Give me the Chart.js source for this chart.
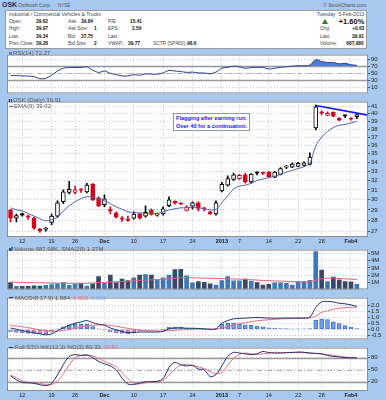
<!DOCTYPE html>
<html lang="en">
<head>
<meta charset="UTF-8">
<title>OSK Daily</title>
<script src="https://cdn.jsdelivr.net/npm/chart.js"></script>
<style>
  body { margin: 0; background: #a7c8ef; }
  #page { position: relative; width: 386px; height: 400px; overflow: hidden; font-family: Arial, "Liberation Sans", sans-serif; }
  #page canvas { position: absolute; left: 0; }
  .t { position: absolute; white-space: pre; color: #444; z-index: 3; }
  .v { font-weight: bold; color: #111; }
  .lg { color: #555; }
  #info { position: absolute; left: 5px; top: 10px; width: 362px; height: 39px; box-sizing: border-box; background: #fff; border: 1px solid #9a9a9a; }
  #note { position: absolute; left: 173px; top: 113px; width: 77px; height: 18px; box-sizing: border-box; background: #fff; border: 1px solid #8c94c8; z-index: 3;
          color: #1b1bf0; font-weight: bold; font-size: 5.6px; line-height: 7.5px; padding: 1px 0 0 2px; white-space: nowrap; }
  .tri { position: absolute; width: 0; height: 0; border-left: 3px solid transparent; border-right: 3px solid transparent; border-bottom: 5px solid #2f7d2f; z-index: 3; }
  .ico { position: absolute; z-index: 3; }
</style>
</head>
<body>
<div id="page">
  <div id="info"></div>
  <div id="note">Flagging after earning run.<br>Over 40 for a continuation.</div>
</div>
<script>
// trading days shown (Nov 8 2012 .. Feb 5 2013)
const dates = ['Nov 8','Nov 9','Nov 12','Nov 13','Nov 14','Nov 15','Nov 16','Nov 19','Nov 20','Nov 21',
  'Nov 23','Nov 26','Nov 27','Nov 28','Nov 29','Nov 30','Dec 3','Dec 4','Dec 5','Dec 6',
  'Dec 7','Dec 10','Dec 11','Dec 12','Dec 13','Dec 14','Dec 17','Dec 18','Dec 19','Dec 20',
  'Dec 21','Dec 24','Dec 26','Dec 27','Dec 28','Dec 31','Jan 2','Jan 3','Jan 4','Jan 7',
  'Jan 8','Jan 9','Jan 10','Jan 11','Jan 14','Jan 15','Jan 16','Jan 17','Jan 18','Jan 22',
  'Jan 23','Jan 24','Jan 25','Jan 28','Jan 29','Jan 30','Jan 31','Feb 1','Feb 4','Feb 5'];

const opens  = [29.0,28.2,28.65,28.35,28.2,27.12,27.15,27.8,28.4,29.8, 30.75,30.75,31.05,30.8,31.6,30.2,29.5,29.0,28.7,28.15,
  28.05,28.2,28.6,28.4,29.0,28.5,28.6,29.4,29.85,29.62, 28.95,29.35,29.7,29.15,28.8,28.6,30.9,31.5,32.1,32.2,
  32.6,31.85,32.82,32.8,32.9,32.35,32.65,33.45,33.45,33.55, 33.65,33.8,38.15,40.15,39.8,40.2,39.4,39.72,39.32,39.62];
const highs  = [29.05,28.6,28.7,28.5,28.3,27.25,27.35,28.6,29.9,31.0, 31.9,31.4,31.15,31.7,31.7,30.3,30.5,29.3,28.8,28.35,
  28.4,28.8,28.7,29.4,29.1,28.7,29.3,30.3,29.9,29.7, 29.4,29.8,29.8,29.25,28.85,29.9,31.8,32.5,32.8,32.65,
  32.8,32.75,32.95,32.9,33.0,33.0,33.4,33.65,33.95,34.0, 34.05,35.1,41.2,40.4,40.25,40.25,39.5,39.85,39.45,39.97];
const lows   = [27.85,27.85,28.4,28.1,27.15,26.9,27.0,27.6,28.3,29.6, 30.6,30.6,30.75,30.7,29.9,29.3,29.3,28.6,28.2,27.9,
  27.9,28.1,28.1,28.3,28.5,28.4,28.5,29.3,29.55,29.5, 28.9,29.1,28.9,28.9,28.55,28.5,30.8,31.4,32.0,32.1,
  31.7,31.7,32.6,32.65,32.35,32.3,32.6,33.3,33.4,33.5, 33.6,33.7,37.9,39.85,39.75,39.6,39.05,39.5,39.15,39.34];
const closes = [28.2,28.45,28.5,28.3,27.3,27.05,27.2,28.4,29.7,30.8, 31.05,31.0,30.97,31.5,30.0,29.4,30.1,28.9,28.3,28.1,
  28.0,28.6,28.2,28.75,28.55,28.58,29.1,30.0,29.65,29.58, 29.3,29.7,29.15,29.08,28.62,29.7,31.6,32.2,32.6,32.55,
  31.85,32.7,32.8,32.75,32.4,32.9,33.3,33.5,33.8,33.9, 33.95,34.6,40.95,40.1,40.05,39.7,39.15,39.7,39.28,39.91];

const ema9 = [29.2,29.0,28.9,28.65,28.4,28.15,27.95,28.05,28.3,28.9, 29.4,29.8,30.1,30.3,30.25,30.05,29.9,29.6,29.3,29.05,
  28.8,28.75,28.7,28.65,28.65,28.65,28.8,29.0,29.1,29.2, 29.2,29.25,29.2,29.1,29.0,29.05,29.7,30.4,31.1,31.4,
  31.5,31.7,32.0,32.15,32.3,32.45,32.65,32.9,33.1,33.3, 33.5,33.9,35.9,37.0,37.7,38.2,38.5,38.6,38.8,39.02];
const trendX = [52, 60.9];
const trendY = [41.12, 39.82];

const rsi14 = [43,43,42,41.5,40,34,35,44,56,64, 66,66,66,68,58.5,52,56,49.5,45.6,42,
  42,45.6,44,48,47,47,50.5,57.8,56,54.5, 52,53,50.5,50.5,48,53,64,66.6,70,68,
  64,66,66.6,66.6,62,64,66.6,68,70,71, 71,73,88.5,83,80.5,80.5,76.5,78,74,72.27];

const volume = [0.96,0.42,0.42,0.42,0.5,0.45,0.58,0.66,0.77,0.96, 0.58,0.69,0.84,0.45,0.77,1.8,0.85,2.0,0.96,1.45,
  1.22,1.6,2.0,2.05,2.0,1.35,1.6,2.0,2.77,2.8, 1.9,0.9,1.1,0.97,0.77,0.6,1.22,1.8,1.2,1.2,
  1.45,1.15,0.96,0.6,0.7,0.9,0.92,0.85,0.6,1.1, 1.1,1.25,5.26,2.7,1.1,1.73,1.35,1.1,1.05,0.69];
const volSma20 = [1.02,1.0,0.98,0.96,0.94,0.92,0.9,0.88,0.87,0.86, 0.85,0.85,0.85,0.86,0.88,0.95,0.97,1.03,1.05,1.1,
  1.13,1.18,1.25,1.3,1.35,1.38,1.42,1.48,1.55,1.62, 1.65,1.62,1.6,1.57,1.55,1.52,1.5,1.48,1.45,1.42,
  1.4,1.35,1.3,1.25,1.22,1.18,1.15,1.12,1.08,1.05, 1.05,1.08,1.3,1.5,1.55,1.55,1.52,1.48,1.42,1.37];

const macdLine = [0.11,0.0,-0.11,-0.2,-0.29,-0.37,-0.45,-0.38,-0.11,0.11, 0.34,0.5,0.61,0.72,0.55,0.41,0.34,0.11,-0.04,-0.18,
  -0.27,-0.27,-0.22,-0.22,-0.22,-0.22,-0.16,0.04,0.11,0.11, 0.09,0.09,0.07,0.04,0.0,0.04,0.5,0.72,0.86,0.9,
  0.92,0.95,0.97,0.95,0.92,0.92,0.92,0.93,0.93,0.93, 0.93,1.0,1.8,2.25,2.3,2.25,2.15,2.1,2.0,1.884];
const macdSignal = [0.32,0.27,0.2,0.13,0.05,-0.03,-0.1,-0.15,-0.15,-0.1, -0.02,0.08,0.18,0.28,0.33,0.36,0.36,0.32,0.25,0.16,
  0.08,0.0,-0.06,-0.1,-0.13,-0.15,-0.15,-0.12,-0.08,-0.05, -0.02,0.0,0.01,0.02,0.02,0.02,0.1,0.22,0.35,0.46,
  0.55,0.63,0.7,0.75,0.79,0.82,0.85,0.87,0.88,0.9, 0.91,0.93,1.1,1.4,1.52,1.65,1.73,1.78,1.8,1.822];
const macdHist = [-0.21,-0.25,-0.3,-0.33,-0.34,-0.33,-0.35,-0.23,0.04,0.21, 0.36,0.42,0.43,0.44,0.22,0.05,-0.02,-0.21,-0.29,-0.34,
  -0.35,-0.27,-0.16,-0.12,-0.09,-0.07,-0.01,0.16,0.19,0.16, 0.11,0.09,0.06,0.02,-0.02,0.02,0.4,0.5,0.51,0.44,
  0.37,0.32,0.27,0.2,0.13,0.1,0.07,0.06,0.05,0.05, 0.04,0.07,0.75,0.85,0.8,0.62,0.47,0.3,0.17,0.062];

const stochK = [34.5,25,18,17,16,12.5,10,16,37,63, 83.6,88,86,87,80.7,71,65,59.5,50,29,
  14,13,16.5,20,20,21,27.7,55.7,68.6,62.5, 59.5,61,52,50,33,38,59.5,83.6,93.6,92,
  90,88,90,96,93,92,92,93,93.6,94.5, 94,92,91,90,86,83.6,82,80.7,80,80.33];
const stochD = [37,30,22,18.5,17,16,12.5,12.7,22,40, 62,80,86,87,85,79,71,65,57.5,43,
  27.7,16,14.5,17,20,20.5,23,37,51,63, 63,61,57,53,45,40,43,61,79,89,
  92,90,89,90,92,94,93,93,93,93, 93,92,91,90,88,86,84,82,80,79.83];

// axis ticks
const dateTickIdx  = [2,7,11,16,21,26,31,36,39,44,49,53,58];
const dateTickText = ['12','19','26','Dec','10','17','24','2013','7','14','22','28','Feb4'];
const dateTickBold = ['Dec','2013','Feb4'];
const priceTicks = [27,28,29,30,31,32,33,34,35,36,37,38,39,40,41];
const rsiTicks = [10,30,50,70,90];
const volTicks = [1,2,3,4,5];
const macdTicks = [-0.5,0,0.5,1,1.5,2];
const stochTicks = [20,50,80];

const FONT = 'Arial, "Liberation Sans", sans-serif';
Chart.defaults.font.family = FONT;
Chart.defaults.animation = false;
Chart.defaults.plugins.legend.display = false;
Chart.defaults.plugins.tooltip.enabled = false;
Chart.defaults.elements.point.radius = 0;
Chart.defaults.elements.line.borderWidth = 1;

const page = document.getElementById('page');
const RED = '#d8001a', BLK = '#000000';

const framePlugin = {
  id: 'frame',
  beforeDraw(chart) {
    const { ctx, chartArea: a } = chart;
    ctx.save();
    ctx.fillStyle = '#ffffff';
    ctx.fillRect(a.left, a.top, a.width, a.height);
    ctx.restore();
  },
  afterDraw(chart) {
    const { ctx, chartArea: a } = chart;
    ctx.save();
    ctx.strokeStyle = '#8c8c8c';
    ctx.lineWidth = 1;
    ctx.strokeRect(a.left + 0.5, a.top + 0.5, a.width - 1, a.height - 1);
    ctx.restore();
  }
};

const refPlugin = {
  id: 'refLines',
  beforeDatasetsDraw(chart, args, opts) {
    const { ctx, chartArea: a, scales: { y } } = chart;
    const draw = (v, dash, color, w) => {
      const py = Math.round(y.getPixelForValue(v)) + 0.5;
      ctx.beginPath();
      ctx.setLineDash(dash);
      ctx.strokeStyle = color;
      ctx.lineWidth = w;
      ctx.moveTo(a.left, py);
      ctx.lineTo(a.right, py);
      ctx.stroke();
    };
    ctx.save();
    (opts.solid || []).forEach(v => draw(v, [], '#9a9a9a', 1.4));
    (opts.dashed || []).forEach(v => draw(v, [5, 2, 1, 2], '#b4b4b4', 1));
    ctx.restore();
  }
};

function makeCanvas(top, height) {
  const c = document.createElement('canvas');
  c.width = 386;
  c.height = height;
  c.style.top = top + 'px';
  page.appendChild(c);
  return c;
}

function xAxis(showDates, stripHeight) {
  return {
    type: 'linear', min: -0.6, max: 60.9, offset: false,
    afterBuildTicks: s => { s.ticks = dateTickIdx.map(v => ({ value: v })); },
    afterFit: s => { s.height = showDates ? stripHeight : 0; },
    ticks: {
      display: showDates, autoSkip: false, maxRotation: 0, padding: 1, color: '#1a1a1a',
      callback: (v, i) => dateTickText[i],
      font: c => ({ size: 5.5, family: FONT, weight: dateTickBold.includes(dateTickText[c.index]) ? 'bold' : 'normal' })
    },
    grid: { color: '#c4c4c4', drawTicks: false, offset: false },
    border: { display: false, dash: [1, 2] }
  };
}

function yAxis(extra, ticksArr, fmt) {
  return Object.assign({
    position: 'right',
    afterFit: s => { s.width = 18; },
    afterBuildTicks: s => { s.ticks = ticksArr.map(v => ({ value: v })); },
    ticks: { font: { size: 6, family: FONT }, color: '#222', padding: 1, autoSkip: false, callback: fmt },
    grid: { color: '#c8c8c8', tickLength: 2, tickColor: '#555', tickBorderDash: [] },
    border: { display: false, dash: [1, 2] }
  }, extra);
}

function panel(top, height, showDates, strip, yScale, datasets, refs) {
  return new Chart(makeCanvas(top, height), {
    type: 'bar',
    data: { datasets },
    options: {
      responsive: false,
      layout: { padding: { left: 7, right: 0, top: 0, bottom: 0 } },
      scales: { x: xAxis(showDates, strip), y: yScale },
      plugins: { refLines: refs || {} }
    },
    plugins: [framePlugin, refPlugin]
  });
}

const pts = arr => arr.map((v, i) => ({ x: i, y: v }));

// ---- RSI panel
panel(50, 48, false, 0,
  yAxis({ type: 'linear', min: -8, max: 103 }, rsiTicks, v => String(v)),
  [{
    type: 'line', data: pts(rsi14), borderColor: '#2b3f8c', borderWidth: 1, tension: 0.3,
    fill: { target: { value: 70 }, above: '#4f7fd6', below: 'rgba(0,0,0,0)' }
  }],
  { solid: [70, 30], dashed: [50] });

// ---- price panel
const candleColor = closes.map((c, i) => c < (i ? closes[i - 1] : opens[i]) ? RED : BLK);
const hollow = closes.map((c, i) => c >= opens[i]);
panel(97, 148, true, 8,
  yAxis({ type: 'logarithmic', min: 26.48, max: 41.67 }, priceTicks, v => String(v)),
  [
    { type: 'line', order: 0, data: trendX.map((x, i) => ({ x, y: trendY[i] })), borderColor: '#1515f5', borderWidth: 1.6 },
    { type: 'line', order: 1, data: pts(ema9), borderColor: '#5461b0', borderWidth: 1, tension: 0.3 },
    {
      type: 'bar', order: 2, grouped: false, barThickness: 4, minBarLength: 1.2, borderWidth: 1, borderSkipped: false,
      data: opens.map((o, i) => ({ x: i, y: [o, closes[i]] })),
      backgroundColor: hollow.map((h, i) => h ? '#ffffff' : candleColor[i]),
      borderColor: candleColor
    },
    {
      type: 'bar', order: 3, grouped: false, barThickness: 1, borderWidth: 0,
      data: lows.map((l, i) => ({ x: i, y: [l, highs[i]] })),
      backgroundColor: candleColor
    }
  ]);

// ---- volume panel
const volColor = closes.map((c, i) => c >= opens[i] ? '#3d78b8' : '#3a4868');
panel(245, 49, false, 0,
  yAxis({ type: 'linear', min: 0, max: 5.55 }, volTicks, v => v + 'M'),
  [
    { type: 'line', order: 0, data: pts(volSma20), borderColor: '#f25a7a', borderWidth: 1, tension: 0.3 },
    { type: 'bar', order: 1, grouped: false, barThickness: 4, data: pts(volume), backgroundColor: volColor, borderWidth: 0 }
  ]);

// ---- MACD panel
panel(293, 51, false, 0,
  yAxis({ type: 'linear', min: -0.83, max: 2.61 }, macdTicks, v => v.toFixed(1)),
  [
    { type: 'line', order: 0, data: pts(macdLine), borderColor: '#1f2d72', borderWidth: 1, tension: 0.3 },
    { type: 'line', order: 1, data: pts(macdSignal), borderColor: '#f26b80', borderWidth: 1, tension: 0.3 },
    {
      type: 'bar', order: 2, grouped: false, barThickness: 4, data: pts(macdHist), borderWidth: 1, borderSkipped: false,
      backgroundColor: macdHist.map(v => v < 0 ? '#ee8a9c' : '#6fa2ee'),
      borderColor: macdHist.map(v => v < 0 ? '#6a7fd0' : '#3e6fcf')
    }
  ]);

// ---- Full stochastics panel
panel(343, 57, true, 9,
  yAxis({ type: 'linear', min: -3.4, max: 105.7 }, stochTicks, v => String(v)),
  [
    { type: 'line', order: 0, data: pts(stochK), borderColor: '#1f2d72', borderWidth: 1, tension: 0.3 },
    { type: 'line', order: 1, data: pts(stochD), borderColor: '#f26b80', borderWidth: 1, tension: 0.3 }
  ],
  { solid: [80, 20], dashed: [50] });

// ---- text overlays (drawn at 2x and scaled down so tiny sizes are not clamped)
function put(txt, x, y, opt = {}) {
  const fs = opt.fs || 4.8;
  const d = document.createElement('div');
  d.className = 't' + (opt.cls ? ' ' + opt.cls : '');
  d.textContent = txt;
  d.style.fontSize = (fs * 2) + 'px';
  d.style.lineHeight = '14px';
  d.style.top = (y - 7) + 'px';
  d.style.transform = 'scale(0.5)';
  if (opt.right) { d.style.right = (386 - x) + 'px'; d.style.transformOrigin = '100% 50%'; }
  else { d.style.left = x + 'px'; d.style.transformOrigin = '0 50%'; }
  if (opt.style) Object.assign(d.style, opt.style);
  page.appendChild(d);
  return d;
}
function box(x, y, w, h, color) {
  const d = document.createElement('div');
  d.className = 'ico';
  Object.assign(d.style, { left: x + 'px', top: y + 'px', width: w + 'px', height: h + 'px', background: color });
  page.appendChild(d);
}

put('OSK', 2, 4, { fs: 7, style: { fontWeight: 'bold', color: '#1c2a55' } });
put('Oshkosh Corp.', 18, 4.5, { fs: 5, style: { color: '#555' } });
put('NYSE', 58, 4.5, { fs: 4.5, style: { color: '#555' } });
put('\u00a9 StockCharts.com', 366, 4.5, { right: true, fs: 5, style: { color: '#555' } });

put('Industrial / Commercial Vehicles & Trucks', 9, 14, { fs: 5 });
put('Tuesday  5-Feb-2013', 364, 14, { right: true, fs: 5 });
// label, value, left x of value
[['Open:', '39.62', 'Ask:', '39.84', 81, 'P/E:', '15.41', 130],
 ['High:', '39.97', 'Ask Size:', '1', 94, 'EPS:', '2.59', 132],
 ['Low:', '39.34', 'Bid:', '37.75', 81, 'Last:', '', 0],
 ['Prev Close:', '39.28', 'Bid Size:', '2', 94, 'VWAP:', '39.77', 128]].forEach((r, k) => {
  const y = [21, 28.4, 35.8, 43.2][k];
  put(r[0], 9, y);
  put(r[1], 35.5, y, { cls: 'v' });
  put(r[2], 68, y);
  put(r[3], r[4], y, { cls: 'v' });
  put(r[5], 108, y);
  if (r[6]) put(r[6], r[7], y, { cls: 'v' });
});
put('SCTR (SP400):', 153, 43.2);
put('98.6', 187, 43.2, { cls: 'v' });

const tri = document.createElement('div');
tri.className = 'tri';
Object.assign(tri.style, { left: '322px', top: '18.5px' });
page.appendChild(tri);
put('+1.60%', 364, 21, { right: true, cls: 'v', fs: 7.5 });
put('Chg:', 320, 28.4);
put('+0.63', 364, 28.4, { right: true, cls: 'v' });
put('Last:', 320, 35.8);
put('39.91', 364, 35.8, { right: true, cls: 'v' });
put('Volume:', 320, 43.2);
put('687,980', 364, 43.2, { right: true, cls: 'v' });

// panel legends
const LG = { cls: 'lg', fs: 6 };
box(9, 51.5, 3, 3, '#4f7fd6');
put('RSI(14) 72.27', 13, 53.2, LG);
box(9, 98.5, 1, 3, '#000'); box(10.5, 98.5, 1.5, 3, RED);
put('OSK (Daily) 39.91', 13, 100.2, LG);
box(9, 105.5, 4, 1, '#5461b0');
put('EMA(9) 39.02', 13.5, 105.8, LG);
box(9, 247.5, 1.5, 3, '#3a4868'); box(11, 246.5, 1.5, 4, '#3d78b8');
put('Volume 687.98K, SMA(20) 1.37M', 13.5, 249.4, LG);
box(9, 297.3, 4, 1, '#1f2d72');
const m = put('MACD(8,17,9) 1.884, ', 14.5, 297.6, LG);
const mw = m.getBoundingClientRect().width;
const m2 = put('1.822, ', 14.5 + mw, 297.6, Object.assign({ style: { color: '#f26b80' } }, LG));
put('0.062', 14.5 + mw + m2.getBoundingClientRect().width, 297.6, Object.assign({ style: { color: '#7ba6f0' } }, LG));
box(9, 346.5, 4, 1, '#1f2d72');
const s = put('Full STO %K(12,3) %D(3) 80.33, ', 14.5, 346.8, LG);
put('79.83', 14.5 + s.getBoundingClientRect().width, 346.8, Object.assign({ style: { color: '#f26b80' } }, LG));
</script>
</body>
</html>
